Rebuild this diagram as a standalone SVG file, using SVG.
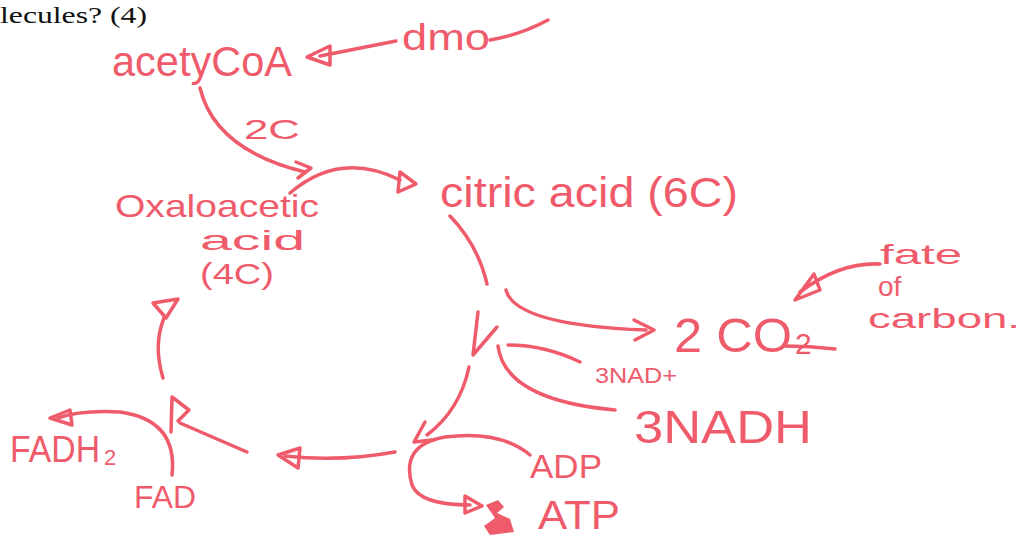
<svg xmlns="http://www.w3.org/2000/svg" width="1033" height="537" viewBox="0 0 1033 537">
<style>
.h{font-family:"Liberation Sans",Arial,sans-serif;fill:#ef5b6b}
.q{font-family:"Liberation Serif","Times New Roman",serif;fill:#111}
.s{fill:none;stroke:#ef5b6b;stroke-width:3.5;stroke-linecap:round;stroke-linejoin:round}
</style>
<rect width="1033" height="537" fill="#fff"/>
<text class="q" x="0" y="23" font-size="24" textLength="147" lengthAdjust="spacingAndGlyphs">lecules? (4)</text>
<g id="acetylcoa"><text class="h" x="112" y="76" font-size="42" textLength="180" lengthAdjust="spacingAndGlyphs">acetyCoA</text></g>
<g id="dmo"><text class="h" x="402" y="50" font-size="36" textLength="88" lengthAdjust="spacingAndGlyphs">dmo</text></g>
<g id="label2c"><text class="h" x="244" y="139" font-size="28" textLength="56" lengthAdjust="spacingAndGlyphs">2C</text></g>
<g id="oxaloacetic"><text class="h" x="115" y="217" font-size="32" textLength="204" lengthAdjust="spacingAndGlyphs">Oxaloacetic</text>
<text class="h" x="200" y="250" font-size="28" textLength="105" lengthAdjust="spacingAndGlyphs">acid</text>
<text class="h" x="200" y="284" font-size="30" textLength="74" lengthAdjust="spacingAndGlyphs">(4C)</text></g>
<g id="citric"><text class="h" x="440" y="207" font-size="42" textLength="298" lengthAdjust="spacingAndGlyphs">citric acid (6C)</text></g>
<g id="co2"><text class="h" x="674" y="352" font-size="48" textLength="118" lengthAdjust="spacingAndGlyphs">2 CO</text><text class="h" x="795" y="354" font-size="30">2</text></g>
<g id="fate"><text class="h" x="880" y="264" font-size="28" textLength="82" lengthAdjust="spacingAndGlyphs">fate</text>
<text class="h" x="878" y="296" font-size="28">of</text>
<text class="h" x="868" y="328" font-size="28" textLength="152" lengthAdjust="spacingAndGlyphs">carbon.</text></g>
<g id="nad"><text class="h" x="595" y="383" font-size="22" textLength="82" lengthAdjust="spacingAndGlyphs">3NAD+</text></g>
<g id="nadh"><text class="h" x="634" y="443" font-size="46" textLength="178" lengthAdjust="spacingAndGlyphs">3NADH</text></g>
<g id="adp"><text class="h" x="530" y="478" font-size="34" textLength="72" lengthAdjust="spacingAndGlyphs">ADP</text></g>
<g id="atp"><text class="h" x="538" y="529" font-size="40" textLength="82" lengthAdjust="spacingAndGlyphs">ATP</text></g>
<g id="fadh2"><text class="h" x="10" y="462" font-size="36" textLength="90" lengthAdjust="spacingAndGlyphs">FADH</text><text class="h" x="104" y="465" font-size="22">2</text></g>
<g id="fad"><text class="h" x="134" y="508" font-size="32" textLength="62" lengthAdjust="spacingAndGlyphs">FAD</text></g>
<g id="connectors">
<path class="s" d="M396 41 L320 56"/>
<path class="s" d="M330 46 L307 57 L330 65 Z"/>
<path class="s" d="M490 40 Q520 35 548 20"/>
<path class="s" d="M200 88 Q215 150 305 172"/>
<path class="s" d="M296 162 L311 168 L298 178"/>
<path class="s" d="M290 193 Q340 150 400 180"/>
<path class="s" d="M400 172 L416 184 L398 192 Z"/>
<path class="s" d="M450 216 Q478 245 487 284"/>
<path class="s" d="M506 290 Q515 325 646 330"/>
<path class="s" d="M634 320 L654 330 L635 340"/>
<path class="s" d="M785 346 Q810 346 835 349"/>
<path class="s" d="M880 264 Q840 262 800 292"/>
<path class="s" d="M814 274 L795 300 L820 290 Z"/>
<path class="s" d="M508 345 Q545 345 580 362"/>
<path class="s" d="M498 346 Q505 400 615 410"/>
<path class="s" d="M478 312 L473 355 L497 327"/>
<path class="s" d="M469 367 Q460 410 427 435"/>
<path class="s" d="M425 422 L414 442 L432 440"/>
<path class="s" d="M530 455 Q500 430 445 437 Q400 445 412 485 Q420 505 470 505"/>
<path class="s" d="M465 496 L482 506 L465 513 Z"/>
<path fill="#ef5b6b" d="M486 505 L498 500 L504 507 L497 513 L510 519 L514 532 L490 535 L484 526 L495 518 Z"/>
<path class="s" d="M395 452 Q340 462 285 456"/>
<path class="s" d="M300 448 L278 455 L298 468 Z"/>
<path class="s" d="M247 452 L180 423"/>
<path class="s" d="M171 432 L172 397 L189 410 L178 421"/>
<path class="s" d="M163 378 Q153 345 164 318"/>
<path class="s" d="M153 303 L178 299 L166 318 Z"/>
<path class="s" d="M172 475 Q178 420 120 412 Q80 410 58 418"/>
<path class="s" d="M70 410 L50 418 L72 425 Z"/>
</g>
</svg>
